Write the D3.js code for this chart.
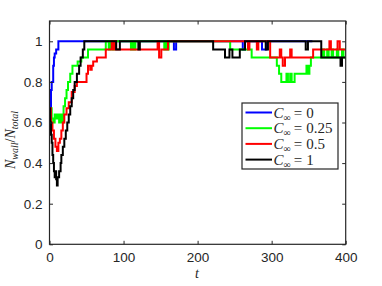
<!DOCTYPE html>
<html>
<head>
<meta charset="utf-8">
<script src="https://cdn.jsdelivr.net/npm/d3@7"></script>
<style>
  body { margin: 0; background: #fff; }
  svg { display: block; }
  .tick text { font-family: "Liberation Sans", Arial, sans-serif; font-size: 13.5px; fill: #262626; }
  .tex { font-family: "Liberation Serif", "DejaVu Serif", serif; fill: #262626; }
</style>
</head>
<body>
<div id="chart"></div>
<script>
// step samples (t, value)
const blueT = [0, 2, 3, 5, 6, 7, 9, 12, 168, 171, 261, 264, 287, 293, 355];
const blueY = [0.67, 0.76, 0.8, 0.88, 0.92, 0.94, 0.96, 1, 0.96, 1, 0.96, 1, 0.96, 1, 1];

const greenT = [0, 3, 5, 7, 9, 11, 13, 15, 17, 19, 21, 23, 25, 28, 31, 34, 38, 43, 48, 52, 60, 66, 72, 76, 80, 82, 85, 87, 90,
  110, 112, 114, 116, 155, 157, 159, 161, 244, 273, 307, 310, 313, 320, 322, 325, 327, 331, 347, 349, 351, 353, 369, 371, 375, 377,
  381, 383, 388, 390, 395, 397, 400];
const greenY = [0.67, 0.62, 0.6, 0.64, 0.62, 0.64, 0.6, 0.64, 0.6, 0.68, 0.72, 0.76, 0.8, 0.84, 0.88, 0.88, 0.9, 0.92, 0.92, 0.96, 0.96, 0.96, 0.96, 1, 0.96, 1, 0.96, 1, 1,
  0.96, 1, 0.96, 1, 0.96, 1, 0.96, 1, 0.96, 0.92, 0.88, 0.84, 0.8, 0.84, 0.8, 0.84, 0.8, 0.84, 0.88, 0.84, 0.88, 0.92, 0.96, 0.92, 0.96, 0.92,
  0.96, 0.92, 0.96, 0.92, 0.96, 0.92, 0.92];

const redT = [0, 2, 4, 6, 8, 10, 12, 14, 16, 18, 20, 23, 26, 30, 34, 37, 50, 52, 55, 57, 59, 64, 76, 84, 86, 88, 90,
  146, 148, 151, 160, 268, 270, 280, 282, 298, 311, 313, 315, 318, 325, 327, 356, 378, 380, 389, 392, 400];
const redY = [0.67, 0.6, 0.56, 0.52, 0.48, 0.46, 0.5, 0.52, 0.56, 0.6, 0.64, 0.67, 0.7, 0.75, 0.78, 0.8, 0.84, 0.88, 0.86, 0.88, 0.9, 0.92, 0.96, 1, 0.96, 1, 0.96,
  1, 0.92, 0.96, 1, 0.96, 1, 0.96, 1, 0.92, 0.96, 0.92, 0.88, 0.92, 0.96, 0.92, 0.96, 1, 0.96, 1, 0.96, 0.96];

const blackT = [0, 1, 2, 3, 4, 5, 6, 7, 8, 9, 10, 11, 13, 15, 16, 18, 20, 22, 24, 26, 28, 30, 32, 34, 37, 40, 42, 45, 47,
  90, 95, 120, 122, 221, 237, 243, 247, 257, 264, 292, 295, 346, 349, 367, 393, 395, 400];
const blackY = [0.67, 0.6, 0.54, 0.5, 0.44, 0.4, 0.36, 0.33, 0.36, 0.32, 0.29, 0.33, 0.36, 0.4, 0.44, 0.48, 0.52, 0.56, 0.6, 0.64, 0.68, 0.72, 0.76, 0.8, 0.84, 0.88, 0.92, 0.96, 1,
  0.96, 1, 0.96, 1, 0.96, 0.92, 0.96, 0.92, 0.96, 1, 0.96, 1, 0.96, 1, 0.92, 0.88, 0.92, 0.92];

const seriesNames = ["0", "0.25", "0.5", "1"];
const seriesColors = ["#0000ff", "#00ff00", "#ff0000", "#000000"];
const xTicks = [0, 100, 200, 300, 400];
const yTicks = [0, 0.2, 0.4, 0.6, 0.8, 1];

const series = [
  { name: seriesNames[0], color: seriesColors[0], pts: blueT.map((t, i) => [t, blueY[i]]) },
  { name: seriesNames[1], color: seriesColors[1], pts: greenT.map((t, i) => [t, greenY[i]]) },
  { name: seriesNames[2], color: seriesColors[2], pts: redT.map((t, i) => [t, redY[i]]) },
  { name: seriesNames[3], color: seriesColors[3], pts: blackT.map((t, i) => [t, blackY[i]]) }
];

const W = 382, H = 286;
const margin = { top: 21, right: 36.3, bottom: 41.7, left: 49.5 };
const width = W - margin.left - margin.right,
      height = H - margin.top - margin.bottom;

const svg = d3.select("#chart").append("svg")
  .attr("width", W).attr("height", H);

const g = svg.append("g")
  .attr("transform", "translate(" + margin.left + "," + margin.top + ")");

const x = d3.scaleLinear().domain([0, 400]).range([0, width]);
const y = d3.scaleLinear().domain([0, 1.1]).range([height, 0]);

// clip so the lines stay in the box
g.append("clipPath").attr("id", "clip")
  .append("rect").attr("width", width).attr("height", height);

const line = d3.line()
  .x(d => x(d[0])).y(d => y(d[1]))
  .curve(d3.curveStepAfter);

g.append("g").attr("clip-path", "url(#clip)")
  .selectAll("path.s")
  .data(series)
  .enter().append("path")
  .attr("class", "s")
  .attr("fill", "none")
  .attr("stroke", d => d.color)
  .attr("stroke-width", 2)
  .attr("stroke-linejoin", "miter")
  .attr("d", d => line(d.pts));

// axes, ticks point inwards
const tk = 3.5;
g.append("g").attr("transform", "translate(0," + height + ")")
  .call(d3.axisBottom(x).tickValues(xTicks).tickSizeInner(-tk).tickSizeOuter(0).tickPadding(8).tickFormat(d3.format("d")));
g.append("g")
  .call(d3.axisLeft(y).tickValues(yTicks).tickSizeInner(-tk).tickSizeOuter(0).tickPadding(7).tickFormat(d => d === 0 || d === 1 ? d : d3.format(".1f")(d)));
g.append("g")
  .call(d3.axisTop(x).tickValues(xTicks).tickSizeInner(-tk).tickSizeOuter(0).tickFormat(""));
g.append("g").attr("transform", "translate(" + width + ",0)")
  .call(d3.axisRight(y).tickValues(yTicks).tickSizeInner(-tk).tickSizeOuter(0).tickFormat(""));

g.selectAll(".domain").remove();
g.selectAll(".tick line").attr("stroke", "#262626");
g.append("rect")
  .attr("width", width).attr("height", height)
  .attr("fill", "none").attr("stroke", "#262626").attr("stroke-width", 1.2);

// labels
svg.append("text").attr("class", "tex")
  .attr("x", 197).attr("y", 278)
  .attr("text-anchor", "middle")
  .style("font-style", "italic").style("font-size", "14px")
  .text("t");

const yl = svg.append("text").attr("class", "tex")
  .attr("transform", "translate(15,140) rotate(-90)")
  .attr("text-anchor", "middle")
  .style("font-size", "14px");
yl.append("tspan").style("font-style", "italic").text("N");
yl.append("tspan").attr("dy", 3).style("font-style", "italic").style("font-size", "10px").text("wall");
yl.append("tspan").attr("dy", -3).text("/");
yl.append("tspan").style("font-style", "italic").text("N");
yl.append("tspan").attr("dy", 3).style("font-style", "italic").style("font-size", "10px").text("total");

// legend
const lg = svg.append("g").attr("transform", "translate(242,103)");
lg.append("rect")
  .attr("width", 96).attr("height", 66)
  .attr("fill", "#fff").attr("stroke", "#262626").attr("stroke-width", 1.2);

const rows = lg.selectAll("g.row").data(series).enter().append("g")
  .attr("class", "row")
  .attr("transform", (d, i) => "translate(0," + (9.5 + i * 15.7) + ")");
rows.append("line")
  .attr("x1", 3.5).attr("x2", 30)
  .attr("stroke", d => d.color).attr("stroke-width", 2);
const lt = rows.append("text").attr("class", "tex")
  .attr("x", 31.5).attr("y", 5)
  .style("font-size", "15px");
lt.append("tspan").style("font-style", "italic").text("C");
lt.append("tspan").attr("dy", 3).style("font-size", "10px").text("∞");
lt.append("tspan").attr("dy", -3).attr("dx", 3).text("=");
lt.append("tspan").attr("dx", 4).text(d => d.name);
</script>
</body>
</html>
